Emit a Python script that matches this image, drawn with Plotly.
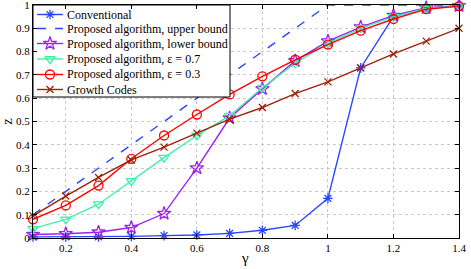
import plotly.graph_objects as go

gamma = [0.1, 0.2, 0.3, 0.4, 0.5, 0.6, 0.7, 0.8, 0.9, 1.0, 1.1, 1.2, 1.3, 1.4]
conventional = [0.005, 0.005, 0.005, 0.007, 0.01, 0.013, 0.02, 0.033, 0.054, 0.17, 0.73, 0.95, 0.985, 0.995]
upper_bound = [0.1, 0.2, 0.3, 0.4, 0.5, 0.6, 0.7, 0.8, 0.9, 1.0, 1.0, 1.0, 1.0, 1.0]
lower_bound = [0.015, 0.018, 0.025, 0.045, 0.105, 0.30, 0.515, 0.64, 0.76, 0.845, 0.905, 0.955, 0.988, 0.997]
eps07 = [0.04, 0.08, 0.145, 0.245, 0.345, 0.44, 0.525, 0.645, 0.75, 0.835, 0.90, 0.95, 0.985, 0.995]
eps03 = [0.08, 0.14, 0.225, 0.34, 0.44, 0.53, 0.616, 0.694, 0.765, 0.83, 0.89, 0.94, 0.982, 0.995]
growth = [0.095, 0.18, 0.26, 0.335, 0.39, 0.45, 0.51, 0.56, 0.62, 0.67, 0.73, 0.79, 0.845, 0.90]

series_names = [
    "Conventional",
    "Proposed algorithm, upper bound",
    "Proposed algorithm, lower bound",
    "Proposed algorithm, ε = 0.7",
    "Proposed algorithm, ε = 0.3",
    "Growth Codes",
]

x_ticks = [0.2, 0.4, 0.6, 0.8, 1.0, 1.2, 1.4]
x_tick_labels = ["0.2", "0.4", "0.6", "0.8", "1", "1.2", "1.4"]
y_ticks = [0, 0.1, 0.2, 0.3, 0.4, 0.5, 0.6, 0.7, 0.8, 0.9, 1.0]
y_tick_labels = ["0", "0.1", "0.2", "0.3", "0.4", "0.5", "0.6", "0.7", "0.8", "0.9", "1"]

BLUE = "#2a45ff"
PURPLE = "#a020f0"
AQUA = "#40f0a8"
RED = "#ff0000"
BROWN = "#a0200a"

styles = [
    dict(color=BLUE, symbol="asterisk-open", size=8, dash="solid", markers=True),
    dict(color=BLUE, symbol="circle", size=1, dash="dash", markers=False),
    dict(color=PURPLE, symbol="star-open", size=10, dash="solid", markers=True),
    dict(color=AQUA, symbol="triangle-down-open", size=9, dash="solid", markers=True),
    dict(color=RED, symbol="circle-open", size=9, dash="solid", markers=True),
    dict(color=BROWN, symbol="x-thin-open", size=7, dash="solid", markers=True),
]
series_values = [conventional, upper_bound, lower_bound, eps07, eps03, growth]

font_family = "Liberation Serif"

fig = go.Figure()

for name, vals, st in zip(series_names, series_values, styles):
    fig.add_trace(go.Scatter(
        x=gamma, y=vals, name=name,
        mode="lines+markers" if st["markers"] else "lines",
        line=dict(color=st["color"], width=1.4, dash=st["dash"]),
        marker=dict(symbol=st["symbol"], size=st["size"], color=st["color"],
                    line=dict(color=st["color"], width=1.3)),
        cliponaxis=False, showlegend=False, hoverinfo="skip",
    ))

# Legend drawn on an overlay axis measured in pixels from the plot's top-left corner
PW, PH = 426, 233
box_w, box_h = 197, 92
row_y = [9.5, 23.5, 38.5, 54, 69.5, 84.5]
fig.add_trace(go.Scatter(
    x=[0, box_w, box_w, 0, 0], y=[0, 0, box_h, box_h, 0],
    xaxis="x2", yaxis="y2", mode="lines", fill="toself", fillcolor="white",
    line=dict(color="black", width=1), showlegend=False, hoverinfo="skip",
))
annotations = []
for name, ry, st in zip(series_names, row_y, styles):
    fig.add_trace(go.Scatter(
        x=[4, 30], y=[ry, ry], xaxis="x2", yaxis="y2", mode="lines",
        line=dict(color=st["color"], width=1.4, dash="dash" if st["dash"] == "dash" else "solid"),
        showlegend=False, hoverinfo="skip", cliponaxis=False,
    ))
    if st["markers"]:
        fig.add_trace(go.Scatter(
            x=[17], y=[ry], xaxis="x2", yaxis="y2", mode="markers",
            marker=dict(symbol=st["symbol"], size=st["size"], color=st["color"],
                        line=dict(color=st["color"], width=1.3)),
            showlegend=False, hoverinfo="skip", cliponaxis=False,
        ))
    annotations.append(dict(
        text=name, xref="paper", yref="paper", x=32 / PW, y=1 - ry / PH,
        xanchor="left", yanchor="middle", showarrow=False,
        font=dict(family=font_family, size=12, color="black"),
    ))

annotations += [
    dict(text="γ", xref="paper", yref="paper", x=0.498, y=-0.084, xanchor="center", yanchor="middle",
         showarrow=False, font=dict(family=font_family, size=15)),
    dict(text="z", xref="paper", yref="paper", x=-0.061, y=0.5, xanchor="center", yanchor="middle",
         showarrow=False, textangle=-90, font=dict(family=font_family, size=14)),
]

axis_common = dict(
    showgrid=True, gridcolor="#c8c8c8", griddash="dot", gridwidth=1,
    showline=True, linecolor="black", linewidth=1, mirror="ticks",
    ticks="inside", ticklen=4, tickcolor="black",
    zeroline=False, automargin=False, ticklabeloverflow="allow",
    tickfont=dict(family=font_family, size=11),
)

fig.update_layout(
    width=471, height=269,
    margin=dict(l=33, r=12, t=5, b=31, autoexpand=False),
    paper_bgcolor="white", plot_bgcolor="white",
    font=dict(family=font_family, size=11, color="black"),
    showlegend=False,
    xaxis=dict(range=[0.1, 1.4], tickvals=x_ticks, ticktext=x_tick_labels, **axis_common),
    yaxis=dict(range=[0, 1], tickvals=y_ticks, ticktext=y_tick_labels, **axis_common),
    xaxis2=dict(overlaying="x", range=[0, PW], visible=False, fixedrange=True),
    yaxis2=dict(overlaying="y", range=[PH, 0], visible=False, fixedrange=True),
    annotations=annotations,
)

fig.write_html("out.html", config={"displayModeBar": False},
               post_script="document.body.style.margin='0px';document.body.style.padding='0px';")
